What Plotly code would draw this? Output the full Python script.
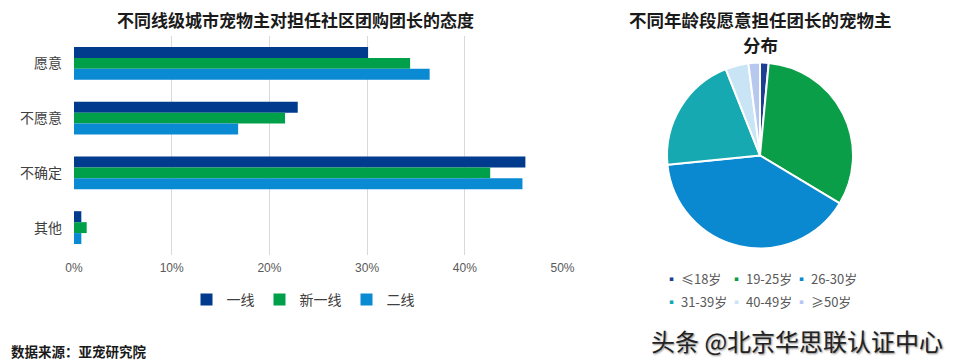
import plotly.graph_objects as go

# ---- data ----
categories = ["愿意", "不愿意", "不确定", "其他"]
series_names = ["一线", "新一线", "二线"]
tier1 = [0.301, 0.229, 0.462, 0.0075]
new_tier1 = [0.344, 0.216, 0.426, 0.013]
tier2 = [0.364, 0.168, 0.459, 0.0075]
bar_colors = ["#003B8E", "#00A04B", "#0A8AD2"]
x_ticks = [0, 0.1, 0.2, 0.3, 0.4, 0.5]

age_labels = ["≤18岁", "19-25岁", "26-30岁", "31-39岁", "40-49岁", "≥50岁"]
age_values = [1.5, 32.1, 39.8, 20.6, 4.0, 2.0]
age_colors = ["#1C3F94", "#0B9E48", "#0A88D0", "#17A9B1", "#C9E5F5", "#B7C8EF"]

bar_title = "不同线级城市宠物主对担任社区团购团长的态度"
pie_title_lines = ["不同年龄段愿意担任团长的宠物主", "分布"]
source_text = "数据来源：亚宠研究院"
watermark = "头条 @北京华思联认证中心"

# page body has an 8px margin: figure occupies the window from (8, 8)
OFF = 8
W, H = 955 - OFF, 364 - OFF


def fx(px):
    return (px - OFF) / W


def fy(py):
    return 1 - (py - OFF) / H


FONT = "Liberation Sans, Noto Sans CJK SC, sans-serif"
CJK = "Noto Sans CJK SC, sans-serif"

fig = go.Figure()
for name, vals, col in zip(series_names, [tier1, new_tier1, tier2], bar_colors):
    fig.add_trace(go.Bar(
        y=categories, x=vals, name=name, orientation="h",
        marker=dict(color=col, line=dict(width=0)),
        legend="legend",
    ))

fig.add_trace(go.Pie(
    labels=age_labels, values=age_values, sort=False, direction="clockwise",
    rotation=0, marker=dict(colors=age_colors, line=dict(color="white", width=2)),
    textinfo="none", showlegend=False,
    domain=dict(x=[fx(667), fx(853)], y=[fy(249), fy(62)]),
))

fig.update_layout(
    width=W, height=H,
    margin=dict(l=0, r=0, t=0, b=0, autoexpand=False),
    paper_bgcolor="white", plot_bgcolor="white",
    font=dict(family=FONT, color="#404040"),
    barmode="group", bargap=0.40, bargroupgap=0,
    xaxis=dict(domain=[fx(74), fx(563)], range=[0, 0.5005],
               tickvals=x_ticks, tickformat=".0%", automargin=False,
               showgrid=True, gridcolor="#D9D9D9", gridwidth=1,
               zeroline=False, showline=False, ticks="",
               tickfont=dict(size=12, color="#595959"),
               ticklabelstandoff=4),
    yaxis=dict(domain=[fy(255), fy(36)], type="category", automargin=False,
               autorange="reversed", showgrid=False, zeroline=False,
               showline=False, ticks="",
               tickfont=dict(size=14, color="#404040", family=CJK),
               ticklabelstandoff=11),
    legend=dict(orientation="h", x=fx(303), xanchor="center",
                y=fy(300), yanchor="middle",
                font=dict(size=14, color="#404040", family=CJK),
                itemwidth=30, tracegroupgap=0, bgcolor="rgba(0,0,0,0)"),
)

# titles
fig.add_annotation(text=bar_title, x=fx(295), y=fy(20), xref="paper", yref="paper",
                   showarrow=False, xanchor="center", yanchor="middle", borderpad=0,
                   font=dict(size=17, color="#1a1a1a", family=CJK, weight="bold"))
for line, yy in zip(pie_title_lines, [20, 45]):
    fig.add_annotation(text=line, x=fx(760), y=fy(yy), xref="paper", yref="paper",
                       showarrow=False, xanchor="center", yanchor="middle", borderpad=0,
                       font=dict(size=17.5, color="#1a1a1a", family=CJK, weight="bold"))

# pie legend (two rows of three)
leg_x = [663, 728, 793]
leg_y = [278, 301]
for i, (lab, col) in enumerate(zip(age_labels, age_colors)):
    r, c = divmod(i, 3)
    fig.add_annotation(
        text=f"<span style='color:{col}'>▪</span> {lab}",
        x=fx(leg_x[c]), y=fy(leg_y[r]), xref="paper", yref="paper",
        showarrow=False, xanchor="left", yanchor="middle",
        font=dict(size=13, color="#595959", family=CJK))

# source
fig.add_annotation(text=source_text, x=fx(10), y=fy(351), xref="paper", yref="paper",
                   showarrow=False, xanchor="left", yanchor="middle", borderpad=0,
                   font=dict(size=13.5, color="#1a1a1a", family=CJK, weight="bold"))
# watermark
fig.add_annotation(text=watermark, x=fx(797), y=fy(340), xref="paper", yref="paper",
                   showarrow=False, xanchor="center", yanchor="middle",
                   font=dict(size=24, color="#222222", family=CJK,
                             shadow="1px 1px 2px #888"))

fig.write_html("out.html")
